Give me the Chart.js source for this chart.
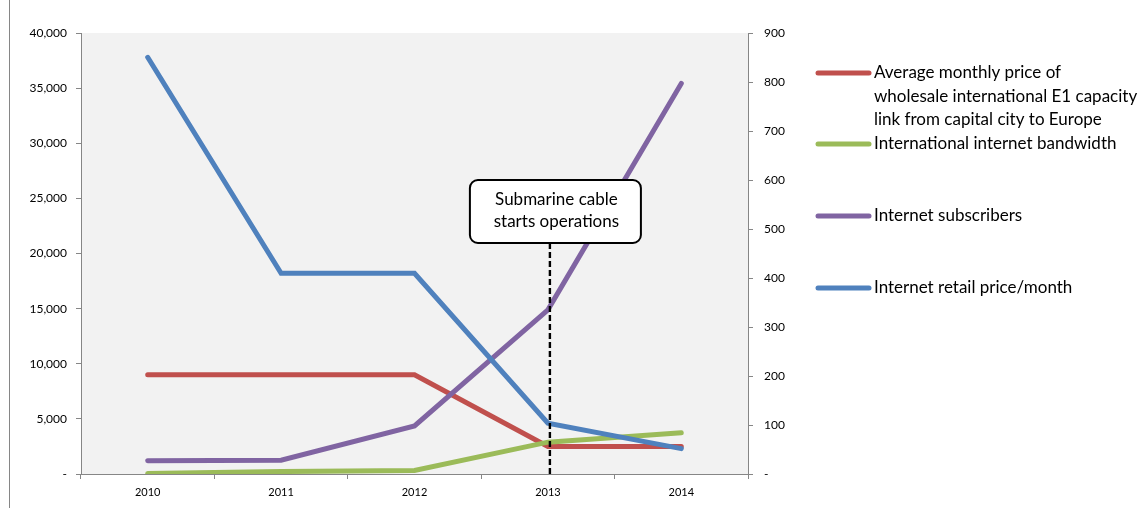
<!DOCTYPE html>
<html>
<head>
<meta charset="utf-8">
<script src="https://cdn.jsdelivr.net/npm/chart.js@4.4.1/dist/chart.umd.min.js"></script>
<style>
  html, body { margin: 0; padding: 0; background: #ffffff; }
  #wrap { width: 1147px; height: 508px; position: relative; }
</style>
</head>
<body>
<div id="wrap"><canvas id="chart" width="1147" height="508"></canvas></div>
<script>
// Categories and series
const years = ['2010', '2011', '2012', '2013', '2014'];
const wholesaleE1Price = [9000, 9000, 9000, 2500, 2500];
const intlBandwidth = [1, 5, 7, 65, 84];
const internetSubscribers = [27, 28, 98, 335, 797];
const retailPricePerMonth = [37800, 18200, 18200, 4600, 2300];

// Axis tick settings
const leftTicks = { min: 0, max: 40000, step: 5000 };
const rightTicks = { min: 0, max: 900, step: 100 };

// Legend labels (wrapped as shown)
const seriesLabels = [
  ['Average monthly price of', 'wholesale international E1 capacity', 'link from capital city to Europe'],
  ['International internet bandwidth'],
  ['Internet subscribers'],
  ['Internet retail price/month']
];

// Callout
const calloutYear = '2013';
const calloutText = ['Submarine cable', 'starts operations'];

const FONT = 'Lato, "Open Sans", sans-serif';
const AXIS_GREY = '#868686';
const COLORS = ['#c0504d', '#9bbb59', '#8064a2', '#4f81bd'];

const fmtTick = v => (v === 0 ? '-' : Number(v).toLocaleString('en-US'));

const plotBackground = {
  id: 'plotBackground',
  beforeDraw(chart) {
    const { ctx, chartArea: a } = chart;
    ctx.save();
    ctx.fillStyle = '#f2f2f2';
    ctx.fillRect(a.left, a.top, a.right - a.left, a.bottom - a.top);
    // outer frame edge
    ctx.strokeStyle = AXIS_GREY;
    ctx.lineWidth = 1;
    ctx.beginPath();
    ctx.moveTo(9.5, 0);
    ctx.lineTo(9.5, chart.height);
    ctx.stroke();
    ctx.restore();
  }
};

const callout = {
  id: 'callout',
  afterDatasetsDraw(chart) {
    const { ctx, chartArea: a } = chart;
    const x = chart.scales.x.getPixelForValue(years.indexOf(calloutYear)) + 2;
    const boxW = 171, boxH = 63;
    const boxTop = a.top + 147;
    const boxLeft = x - 80;
    ctx.save();
    // dashed marker
    ctx.strokeStyle = '#000';
    ctx.lineWidth = 2.4;
    ctx.setLineDash([6, 3]);
    ctx.beginPath();
    ctx.moveTo(x, boxTop + boxH);
    ctx.lineTo(x, a.bottom);
    ctx.stroke();
    ctx.setLineDash([]);
    // rounded box
    const r = 8;
    ctx.beginPath();
    ctx.roundRect(boxLeft, boxTop, boxW, boxH, r);
    ctx.fillStyle = '#ffffff';
    ctx.fill();
    ctx.lineWidth = 2;
    ctx.strokeStyle = '#000';
    ctx.stroke();
    ctx.fillStyle = '#000';
    ctx.font = '17px ' + FONT;
    ctx.textAlign = 'center';
    ctx.textBaseline = 'middle';
    ctx.fillText(calloutText[0], boxLeft + boxW / 2 + 1, boxTop + 20);
    ctx.fillText(calloutText[1], boxLeft + boxW / 2 + 1, boxTop + 42);
    ctx.restore();
  }
};

const sideLegend = {
  id: 'sideLegend',
  afterDraw(chart) {
    const { ctx } = chart;
    const rows = [73, 144, 216, 288];
    ctx.save();
    ctx.font = '17px ' + FONT;
    ctx.textBaseline = 'middle';
    ctx.textAlign = 'left';
    ctx.lineCap = 'round';
    seriesLabels.forEach((lines, i) => {
      const y = rows[i];
      const ds = chart.data.datasets.find(d => d.legendIndex === i);
      ctx.strokeStyle = ds.borderColor;
      ctx.lineWidth = 5;
      ctx.beginPath();
      ctx.moveTo(818, y);
      ctx.lineTo(869, y);
      ctx.stroke();
      ctx.fillStyle = '#000';
      lines.forEach((t, k) => ctx.fillText(t, 874, y + k * 23.5));
    });
    ctx.restore();
  }
};

const mkDs = (i, data, axis, order) => ({
  label: seriesLabels[i].join(' '),
  legendIndex: i,
  data,
  yAxisID: axis,
  borderColor: COLORS[i],
  backgroundColor: COLORS[i],
  borderWidth: 5,
  borderCapStyle: 'round',
  borderJoinStyle: 'miter',
  pointRadius: 0,
  pointHoverRadius: 0,
  tension: 0,
  fill: false,
  order
});

new Chart(document.getElementById('chart'), {
  type: 'line',
  data: {
    labels: years,
    datasets: [
      mkDs(0, wholesaleE1Price, 'yL', 4),
      mkDs(1, intlBandwidth, 'yR', 3),
      mkDs(2, internetSubscribers, 'yR', 2),
      mkDs(3, retailPricePerMonth, 'yL', 1)
    ]
  },
  options: {
    responsive: false,
    animation: false,
    devicePixelRatio: 1,
    layout: { padding: { top: 33, left: 0, right: 0, bottom: 0 } },
    plugins: { legend: { display: false }, tooltip: { enabled: false } },
    scales: {
      x: {
        offset: true,
        grid: { offset: true, drawOnChartArea: false, color: AXIS_GREY, tickLength: 5 },
        border: { color: AXIS_GREY, width: 1 },
        ticks: { color: '#000', font: { family: FONT, size: 11 }, padding: 7, maxRotation: 0 },
        afterFit(s) { s.height = 34; }
      },
      yL: {
        position: 'left',
        min: leftTicks.min, max: leftTicks.max,
        grid: { drawOnChartArea: false, color: AXIS_GREY, tickLength: 5 },
        border: { color: AXIS_GREY, width: 1 },
        ticks: { stepSize: leftTicks.step, color: '#000', font: { family: FONT, size: 12 }, padding: 9, callback: fmtTick },
        afterFit(s) { s.width = 81; }
      },
      yR: {
        position: 'right',
        min: rightTicks.min, max: rightTicks.max,
        grid: { drawOnChartArea: false, color: AXIS_GREY, tickLength: 5 },
        border: { color: AXIS_GREY, width: 1 },
        ticks: { stepSize: rightTicks.step, color: '#000', font: { family: FONT, size: 12 }, padding: 11, callback: fmtTick },
        afterFit(s) { s.width = 399; }
      }
    }
  },
  plugins: [plotBackground, callout, sideLegend]
});
</script>
</body>
</html>
